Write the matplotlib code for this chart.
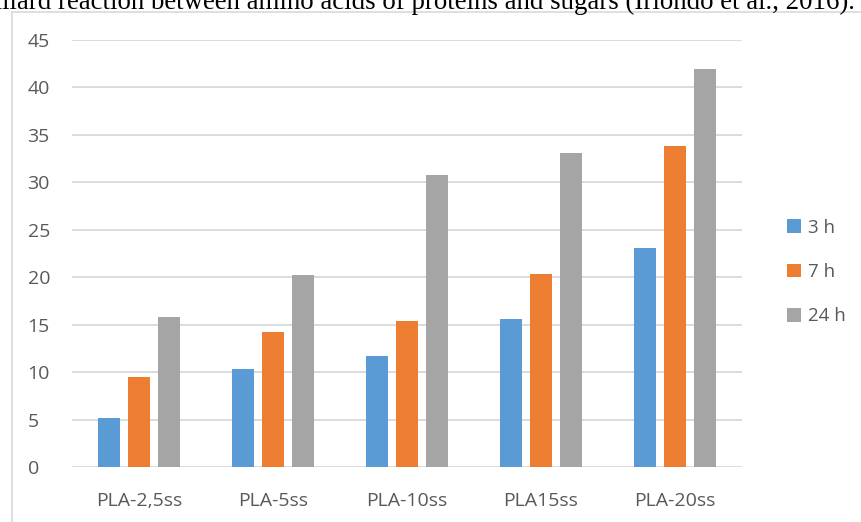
import matplotlib.pyplot as plt
import matplotlib.patches as mpatches
import numpy as np

categories = ["PLA-2,5ss", "PLA-5ss", "PLA-10ss", "PLA15ss", "PLA-20ss"]
series_names = ["3 h", "7 h", "24 h"]
vals_3h = [5.2, 10.3, 11.7, 15.6, 23.1]
vals_7h = [9.5, 14.2, 15.4, 20.3, 33.8]
vals_24h = [15.8, 20.2, 30.8, 33.1, 41.9]
y_ticks = [0, 5, 10, 15, 20, 25, 30, 35, 40, 45]

colors = ["#5B9BD5", "#ED7D31", "#A5A5A5"]
txt_col = "#595959"
grid_col = "#D9D9D9"

plt.rcParams["font.family"] = ["Open Sans", "DejaVu Sans"]

W, H = 861, 522
fig = plt.figure(figsize=(W / 100, H / 100), dpi=100)
fig.patch.set_facecolor("white")

# caption line cut off at the top of the screenshot
fig.text(855 / W, 1 - 9 / H,
         "Maillard reaction between amino acids of proteins and sugars (Iriondo et al., 2016).",
         ha="right", va="baseline", fontsize=19.4, family="Liberation Serif", color="black")

# chart frame (left/top edges visible)
fig.patches.append(mpatches.Rectangle((12 / W, -0.1), 1.2, 1 - 12 / H + 0.1,
                                      transform=fig.transFigure, fill=False,
                                      edgecolor=grid_col, linewidth=1.2))

ax = fig.add_axes([72 / W, 1 - 467 / H, (742 - 72) / W, (467 - 40) / H])
x = np.arange(len(categories))
bw = 0.17
step = 0.224
for i, (vals, name) in enumerate(zip([vals_3h, vals_7h, vals_24h], series_names)):
    ax.bar(x + (i - 1) * step, vals, width=bw, color=colors[i], label=name, zorder=3)

ax.set_xlim(-0.5, len(categories) - 0.5)
ax.set_ylim(0, 45)
ax.set_yticks(y_ticks)
ax.set_xticks(x)
ax.set_xticklabels(categories)
ax.tick_params(axis="both", length=0, labelsize=14, colors=txt_col)
ax.tick_params(axis="y", pad=32)
ax.tick_params(axis="x", pad=18)
for lbl in ax.get_yticklabels():
    lbl.set_horizontalalignment("left")
ax.yaxis.grid(True, color=grid_col, linewidth=1.3, zorder=0)
for s in ax.spines.values():
    s.set_visible(False)

ax.legend(loc="center left", bbox_to_anchor=(770 / W, 1 - 272 / H),
          bbox_transform=fig.transFigure, frameon=False, fontsize=13.5,
          labelcolor=txt_col, handlelength=0.75, handleheight=0.75,
          handletextpad=0.35, labelspacing=1.4)

fig.savefig("out.png", dpi=100)
